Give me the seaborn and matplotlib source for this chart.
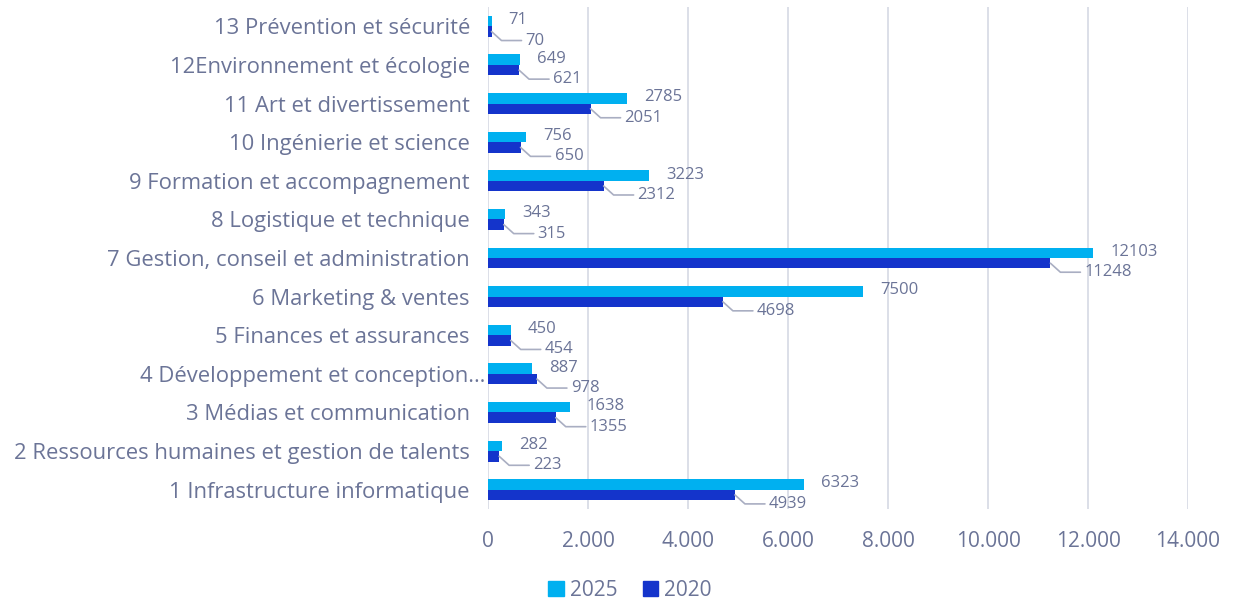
import pandas as pd
import matplotlib.pyplot as plt
import matplotlib.transforms as mtransforms
import seaborn as sns

# Job categories (bottom to top in the chart) and counts per year
categories = [
    "1 Infrastructure informatique",
    "2 Ressources humaines et gestion de talents",
    "3 Médias et communication",
    "4 Développement et conception…",
    "5 Finances et assurances",
    "6 Marketing & ventes",
    "7 Gestion, conseil et administration",
    "8 Logistique et technique",
    "9 Formation et accompagnement",
    "10 Ingénierie et science",
    "12Environnement et écologie",
    "11 Art et divertissement",
    "13 Prévention et sécurité",
]
values_2025 = [6323, 282, 1638, 887, 450, 7500, 12103, 343, 3223, 756, 649, 2785, 71]
values_2020 = [4939, 223, 1355, 978, 454, 4698, 11248, 315, 2312, 650, 621, 2051, 70]

# display order, top to bottom
order = [
    "13 Prévention et sécurité",
    "12Environnement et écologie",
    "11 Art et divertissement",
    "10 Ingénierie et science",
    "9 Formation et accompagnement",
    "8 Logistique et technique",
    "7 Gestion, conseil et administration",
    "6 Marketing & ventes",
    "5 Finances et assurances",
    "4 Développement et conception…",
    "3 Médias et communication",
    "2 Ressources humaines et gestion de talents",
    "1 Infrastructure informatique",
]
years = ["2025", "2020"]
colors = ["#00B0F0", "#1434CB"]

text_color = "#6B7497"
grid_color = "#D9DCE6"
leader_color = "#A9AEC2"

df = pd.concat([
    pd.DataFrame({"category": categories, "year": "2025", "value": values_2025}),
    pd.DataFrame({"category": categories, "year": "2020", "value": values_2020}),
])

sns.set_style("white")
plt.rcParams["font.family"] = ["Open Sans", "DejaVu Sans"]

fig = plt.figure(figsize=(12.38, 6.02), dpi=100)
ax = fig.add_axes([488 / 1238, 1 - 509 / 602, 700 / 1238, 502 / 602])

sns.barplot(data=df, y="category", x="value", hue="year", order=order,
            hue_order=years, palette=colors, orient="h", width=0.54,
            saturation=1, linewidth=0, ax=ax, legend=False)

ax.set_xlim(0, 14000)
ax.set_ylim(len(order) - 0.5, -0.5)
ax.set_xticks(range(0, 14001, 2000))
ax.set_xticklabels([f"{v:,}".replace(",", ".") for v in range(0, 14001, 2000)])
ax.xaxis.grid(True, color=grid_color, linewidth=1.3)
ax.set_axisbelow(True)
for s in ax.spines.values():
    s.set_visible(False)
ax.tick_params(axis="x", length=0, pad=16, labelsize=15, labelcolor=text_color)
ax.tick_params(axis="y", length=0, pad=13, labelsize=15.8, labelcolor=text_color)
ax.set_xlabel("")
ax.set_ylabel("")

# the truncated label overflows towards the bars
for lab in ax.get_yticklabels():
    if lab.get_text().startswith("4 "):
        lab.set_transform(lab.get_transform() +
                          mtransforms.ScaledTranslation(15 / 100, 0, fig.dpi_scale_trans))

# data labels; 2020 labels get a leader line
px_x = 20.0          # data units per pixel in x
px_y = 1 / 38.6      # data units per pixel in y
for i, year in enumerate(years):
    cont = ax.containers[i]
    for bar in cont:
        w = bar.get_width()
        yc = bar.get_y() + bar.get_height() / 2
        if year == "2025":
            ax.text(w + 17 * px_x, yc - 1 * px_y, f"{int(w)}", va="center",
                    ha="left", fontsize=12, color=text_color)
        else:
            ly = yc + 9 * px_y
            ax.plot([w, w + 10 * px_x, w + 30 * px_x], [yc, ly, ly],
                    color=leader_color, linewidth=1.2, clip_on=False)
            ax.text(w + 34 * px_x, ly, f"{int(w)}", va="center", ha="left",
                    fontsize=12, color=text_color)

handles = [plt.Rectangle((0, 0), 1, 1, color=c) for c in colors]
fig.legend(handles, years, loc="center", bbox_to_anchor=(630 / 1238, 1 - 590 / 602),
           ncol=2, frameon=False, fontsize=15, labelcolor=text_color,
           handlelength=0.75, handleheight=0.75, handletextpad=0.3, columnspacing=1.2)

fig.savefig("out.png", dpi=100)
